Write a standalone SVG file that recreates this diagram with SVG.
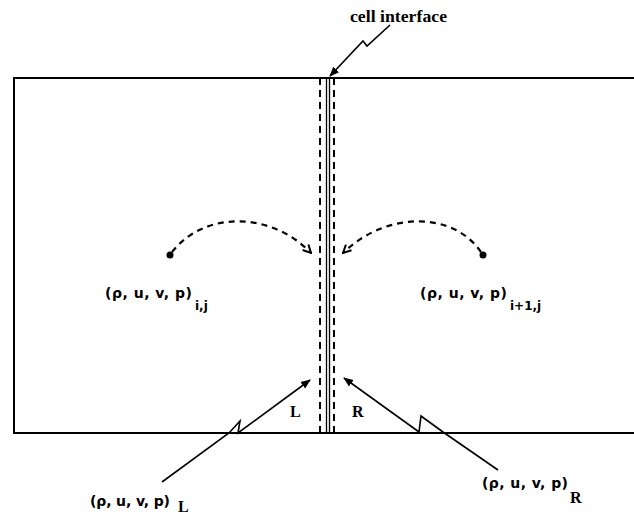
<svg xmlns="http://www.w3.org/2000/svg" width="634" height="514" viewBox="0 0 634 514">
<style>
.frame{fill:none;stroke:#000;stroke-width:2}
.solid{fill:none;stroke:#000;stroke-width:1.3}
.dash{fill:none;stroke:#000;stroke-width:2;stroke-dasharray:7 5}
.curve{fill:none;stroke:#000;stroke-width:2.2;stroke-dasharray:6 5}
.ptr{fill:none;stroke:#000;stroke-width:1.6}
.tup{font-family:"DejaVu Sans",sans-serif;font-weight:bold;font-size:14px;fill:#000}
.sub{font-family:"DejaVu Sans",sans-serif;font-weight:bold;font-size:12px;fill:#000}
.lbl{font-family:"Liberation Serif",serif;font-weight:bold;font-size:16px;fill:#000}
</style>
<defs>
<marker id="fill" viewBox="0 0 10 10" refX="9" refY="5" markerWidth="10" markerHeight="10" markerUnits="userSpaceOnUse" orient="auto">
<path d="M0,1 L10,5 L0,9 z" fill="#000"/>
</marker>
<marker id="open" viewBox="0 0 10 10" refX="9" refY="5" markerWidth="10" markerHeight="10" markerUnits="userSpaceOnUse" orient="auto">
<path d="M1,1 L9,5 L1,9" fill="none" stroke="#000" stroke-width="2"/>
</marker>
</defs>
<g id="domain">
<path class="frame" d="M634,78 H14 V433 H634"/>
</g>
<g id="interface">
<line class="solid" x1="326.5" y1="78" x2="326.5" y2="433"/>
<line class="solid" x1="329.5" y1="78" x2="329.5" y2="433"/>
<line class="dash" x1="320" y1="78" x2="320" y2="433"/>
<line class="dash" x1="334" y1="78" x2="334" y2="433"/>
<text class="lbl" x="350" y="22" font-weight="normal" textLength="97" lengthAdjust="spacingAndGlyphs">cell interface</text>
</g>
<g id="cell-left">
<circle cx="170" cy="255" r="3.5" fill="#000"/>
<text class="tup" x="105" y="298" textLength="87">(ρ,  u, v, p)</text>
<text class="sub" x="195" y="310">i,j</text>
</g>
<g id="cell-right">
<circle cx="483" cy="255" r="3.5" fill="#000"/>
<text class="tup" x="420" y="298" textLength="87">(ρ,  u, v, p)</text>
<text class="sub" x="510" y="310">i+1,j</text>
</g>
<g id="state-L">
<text class="tup" x="90" y="506" textLength="80">(ρ,  u, v, p)</text>
<text class="lbl" x="178" y="512">L</text>
<text class="lbl" x="290" y="417">L</text>
</g>
<g id="state-R">
<text class="tup" x="482" y="488" textLength="86">(ρ,  u, v, p)</text>
<text class="lbl" x="570" y="503">R</text>
<text class="lbl" x="352" y="417">R</text>
</g>
<g id="connectors">
<path class="ptr" d="M390,25 L367,46 L363,41 L330,76" marker-end="url(#fill)"/>
<path class="curve" d="M172,252 C205,210 272,212 311,253" marker-end="url(#open)"/>
<path class="curve" d="M481,252 C452,210 385,212 343,253" marker-end="url(#open)"/>
<path class="ptr" d="M162,482 L229,433 L240,421 L238,433 L310,380" marker-end="url(#fill)"/>
<path class="ptr" d="M498,470 L443,432 L421,416 L419,432 L344,378" marker-end="url(#fill)"/>
</g>
</svg>
